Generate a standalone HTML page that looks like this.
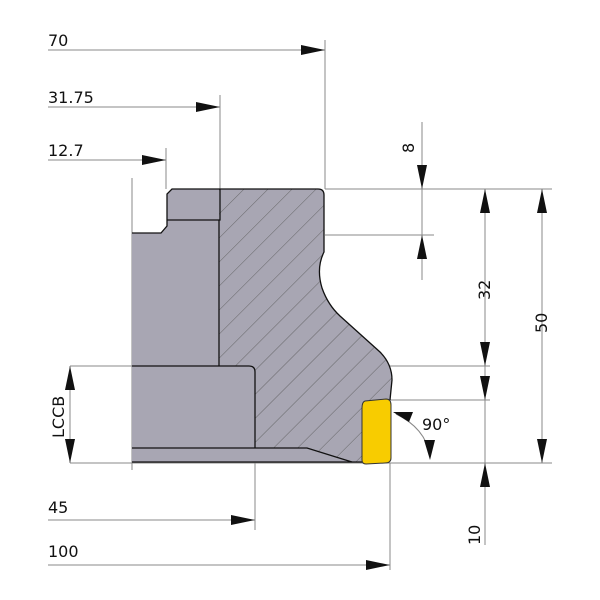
<!DOCTYPE html>
<html><head><style>body{margin:0;background:#fff}svg{display:block}text{font-family:"DejaVu Sans","Liberation Sans",sans-serif;font-size:16px;fill:#111}</style></head>
<body>
<svg width="600" height="600" viewBox="0 0 600 600">
<defs>
<pattern id="h" patternUnits="userSpaceOnUse" width="17" height="17" patternTransform="rotate(45)">
<rect width="17" height="17" fill="#a8a6b3"/><line x1="0" y1="0" x2="0" y2="17" stroke="#555" stroke-width="0.8"/>
</pattern>
</defs>
<g stroke="#888" stroke-width="1" fill="none">
<line x1="48" y1="50" x2="325" y2="50"/><line x1="325" y1="40" x2="325" y2="189"/>
<line x1="48" y1="107" x2="220" y2="107"/><line x1="220" y1="95" x2="220" y2="189"/>
<line x1="48" y1="160" x2="166" y2="160"/><line x1="166" y1="148" x2="166" y2="189"/>
<line x1="48" y1="520" x2="255" y2="520"/><line x1="255" y1="366" x2="255" y2="530"/>
<line x1="48" y1="565" x2="390" y2="565"/><line x1="390" y1="463" x2="390" y2="570"/>
<line x1="132" y1="178" x2="132" y2="470"/>
<line x1="325" y1="189" x2="552" y2="189"/><line x1="325" y1="235" x2="434" y2="235"/>
<line x1="70" y1="366" x2="490" y2="366"/><line x1="390" y1="400" x2="490" y2="400"/>
<line x1="70" y1="463" x2="552" y2="463"/>
<line x1="422" y1="122" x2="422" y2="280"/>
<line x1="485" y1="189" x2="485" y2="545"/>
<line x1="542" y1="189" x2="542" y2="463"/>
<line x1="70" y1="366" x2="70" y2="463"/>
<path d="M396,414 Q425,428 430,455"/>
</g>
<path d="M132,233 L161,233 L167,226 L167,194 L172,189 L318,189 Q324,189 324,195 L324,252 Q316,268 322,288 Q328,305 340,316 L380,352 Q392,364 392,380 L390,400 L390,462 L352,462 L307,448 L132,448 Z" fill="#a8a6b3"/>
<path d="M219,189 L318,189 Q324,189 324,195 L324,252 Q316,268 322,288 Q328,305 340,316 L380,352 Q392,364 392,380 L390,400 L390,462 L352,462 L307,448 L255,448 L255,372 Q255,366 249,366 L219,366 Z" fill="url(#h)"/>
<path d="M132,448 L307,448 L352,462 L132,462 Z" fill="#a8a6b3"/>
<g stroke="#111" stroke-width="1.3" fill="none">
<path d="M132,233 L161,233 L167,226 L167,194 L172,189 L318,189 Q324,189 324,195 L324,252 Q316,268 322,288 Q328,305 340,316 L380,352 Q392,364 392,380 L390,400"/>
<path d="M167,220 L220,220 L220,189"/><line x1="219" y1="220" x2="219" y2="366"/>
<path d="M132,366 L249,366 Q255,366 255,372 L255,448"/>
<path d="M132,448 L307,448 L352,462"/><line x1="132" y1="462" x2="362" y2="462"/>
</g>
<path d="M365,401 L386,399 Q391,399 391,405 L391,458 Q391,463 385,463 L366,464 Q362,464 362,460 L362,408 Q362,402 365,401 Z" fill="#f8cc00" stroke="#333" stroke-width="1"/>
<g fill="#111">
<path d="M325,50 L301,45 L301,55Z"/><path d="M220,107 L196,102 L196,112Z"/><path d="M166,160 L142,155 L142,165Z"/>
<path d="M255,520 L231,515 L231,525Z"/><path d="M390,565 L366,560 L366,570Z"/>
<path d="M422,189 L417,165 L427,165Z"/><path d="M422,235 L417,259 L427,259Z"/>
<path d="M485,189 L480,213 L490,213Z"/><path d="M485,366 L480,342 L490,342Z"/>
<path d="M485,400 L480,376 L490,376Z"/><path d="M485,463 L480,487 L490,487Z"/>
<path d="M542,189 L537,213 L547,213Z"/><path d="M542,463 L537,439 L547,439Z"/>
<path d="M70,366 L65,390 L75,390Z"/><path d="M70,463 L65,439 L75,439Z"/>
<path d="M393,412 L413,412 L409,422Z"/><path d="M430,460 L424,440 L435,440Z"/>
</g>
<text x="48" y="46">70</text><text x="48" y="103">31.75</text><text x="48" y="156">12.7</text>
<text x="48" y="513">45</text><text x="48" y="557">100</text>
<text x="422" y="430">90°</text>
<text transform="translate(414,153) rotate(-90)">8</text>
<text transform="translate(490,300) rotate(-90)">32</text>
<text transform="translate(547,333) rotate(-90)">50</text>
<text transform="translate(480,545) rotate(-90)">10</text>
<text transform="translate(64,438) rotate(-90)">LCCB</text>
</svg>
</body></html>
